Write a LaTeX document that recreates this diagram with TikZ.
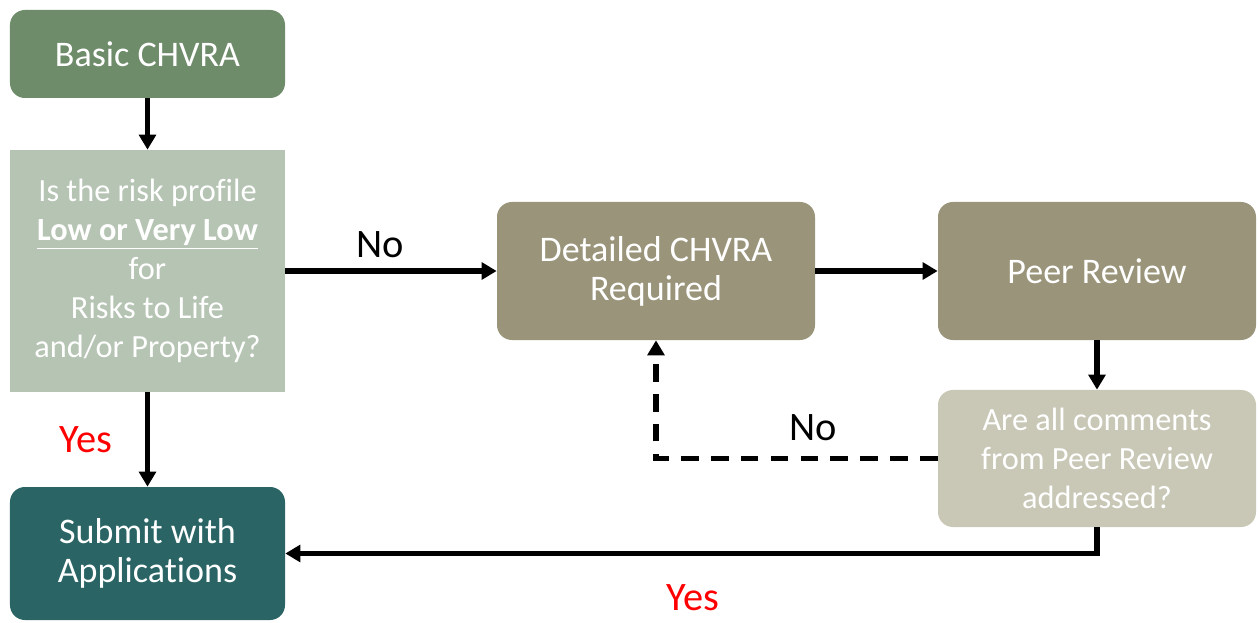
\documentclass[tikz,border=0pt]{standalone}
\usepackage{fontspec}
\setmainfont{Carlito}[Ligatures=NoCommon]
\usetikzlibrary{arrows.meta}
\definecolor{basicgreen}{HTML}{6E8B6A}
\definecolor{askgreen}{HTML}{B5C4B3}
\definecolor{submitteal}{HTML}{2A6464}
\definecolor{detailolive}{HTML}{99947A}
\definecolor{askolive}{HTML}{C9C8B7}
\definecolor{answerred}{HTML}{FF0000}
\tikzset{
  box/.style={rounded corners=8.5pt, text=white, align=center, inner sep=0pt,
    minimum width=5.5cm, font=\fontsize{20.5}{22.3}\selectfont},
  widebox/.style={box, minimum width=6.36cm},
  askbox/.style={font=\fontsize{18.4}{22.2}\selectfont},
  flow/.style={line width=2.9pt, -{Triangle[width=9.5pt,length=8.5pt]}},
  answer/.style={font=\fontsize{23}{25}\selectfont}
}
\begin{document}
\begin{tikzpicture}[x=0.2mm,y=-0.2mm]
  \useasboundingbox (0,0) rectangle (1258,623);
  % left column
  \node[box, fill=basicgreen, minimum height=1.76cm] (basic) at (147.5,54) {Basic CHVRA};
  \node[box, askbox, fill=askgreen, rounded corners=0pt, minimum height=4.84cm] (risk) at (147.5,271)
    {Is the risk profile\\ \underline{\textbf{Low or Very Low}}\\ for\\ Risks to Life\\ and/or Property?};
  \node[box, fill=submitteal, minimum height=2.66cm] (submit) at (147.5,553.5) {Submit with\\ Applications};
  % right part
  \node[widebox, fill=detailolive, minimum height=2.76cm] (detail) at (656,271) {Detailed CHVRA\\ Required};
  \node[widebox, fill=detailolive, minimum height=2.76cm] (peer) at (1097,271) {Peer Review};
  \node[widebox, askbox, fill=askolive, minimum height=2.74cm] (addressed) at (1097,458.5)
    {Are all comments\\ from Peer Review\\ addressed?};
  % connectors
  \draw[flow] (basic) -- (risk);
  \draw[flow] (risk) -- (detail);
  \draw[flow] (risk) -- (submit);
  \draw[flow] (detail) -- (peer);
  \draw[flow] (peer) -- (addressed);
  \draw[flow, dash pattern=on 10pt off 7pt] (addressed.west) -| (detail.south);
  \draw[flow] (addressed.south) |- (submit.east);
  % answers
  \node[answer] (no1) at (380,245) {No};
  \node[answer, text=answerred] (yes1) at (86,440) {Yes};
  \node[answer] (no2) at (813,428) {No};
  \node[answer, text=answerred] (yes2) at (693,598) {Yes};
\end{tikzpicture}
\end{document}
